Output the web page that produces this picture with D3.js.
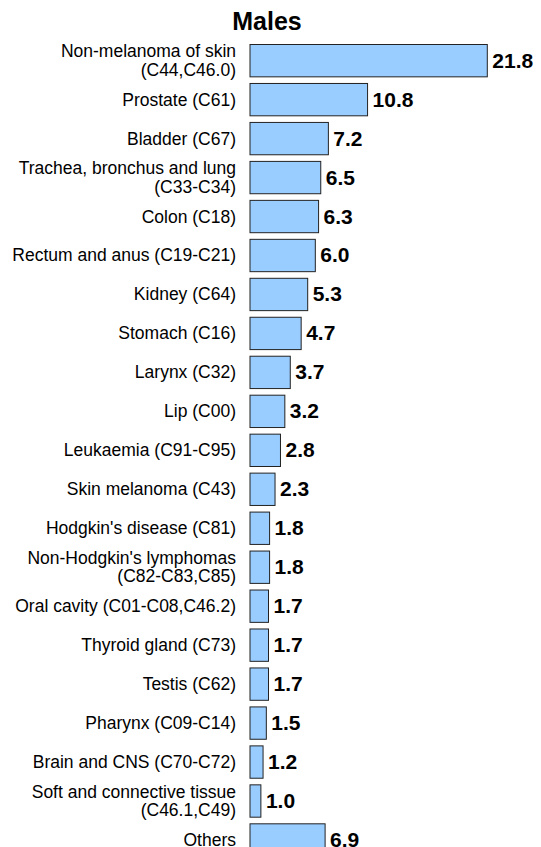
<!DOCTYPE html>
<html>
<head>
<meta charset="utf-8">
<script src="https://cdn.jsdelivr.net/npm/d3@7"></script>
<style>
  body { margin: 0; background: #fff; }
  svg { display: block; font-family: "Liberation Sans", Arial, sans-serif; }
</style>
</head>
<body>
<div id="chart"></div>
<script>
const title = "Males";
const categories = [
  "Non-melanoma of skin\n(C44,C46.0)",
  "Prostate (C61)",
  "Bladder (C67)",
  "Trachea, bronchus and lung\n(C33-C34)",
  "Colon (C18)",
  "Rectum and anus (C19-C21)",
  "Kidney (C64)",
  "Stomach (C16)",
  "Larynx (C32)",
  "Lip (C00)",
  "Leukaemia (C91-C95)",
  "Skin melanoma (C43)",
  "Hodgkin's disease (C81)",
  "Non-Hodgkin's lymphomas\n(C82-C83,C85)",
  "Oral cavity (C01-C08,C46.2)",
  "Thyroid gland (C73)",
  "Testis (C62)",
  "Pharynx (C09-C14)",
  "Brain and CNS (C70-C72)",
  "Soft and connective tissue\n(C46.1,C49)",
  "Others"
];
const values = [21.8, 10.8, 7.2, 6.5, 6.3, 6.0, 5.3, 4.7, 3.7, 3.2, 2.8, 2.3, 1.8, 1.8, 1.7, 1.7, 1.7, 1.5, 1.2, 1.0, 6.9];

const width = 541, height = 847;
const margin = { top: 44, right: 0, bottom: 0, left: 250 };
const barStep = 38.65;

const svg = d3.select("#chart").append("svg")
  .attr("width", width)
  .attr("height", height);

const x = d3.scaleLinear()
  .domain([0, 21.8])
  .range([margin.left, 487.3]);

const y = d3.scaleBand()
  .domain(d3.range(categories.length))
  .range([margin.top, margin.top + barStep * categories.length])
  .paddingInner(0.17)
  .paddingOuter(0);

svg.append("text")
  .attr("x", 267)
  .attr("y", 30)
  .attr("text-anchor", "middle")
  .attr("font-size", 25)
  .attr("font-weight", "bold")
  .text(title);

const rows = svg.append("g")
  .selectAll("g")
  .data(values)
  .join("g");

rows.append("rect")
  .attr("x", x(0))
  .attr("y", (d, i) => y(i) + 0.5)
  .attr("width", (d) => x(d) - x(0))
  .attr("height", y.bandwidth())
  .attr("fill", "#99ccff")
  .attr("stroke", "#222")
  .attr("stroke-width", 1);

rows.append("text")
  .attr("x", (d) => x(d) + 5)
  .attr("y", (d, i) => y(i) + y.bandwidth() / 2 + 7.5)
  .attr("font-size", 21)
  .attr("font-weight", "bold")
  .attr("fill", "#000")
  .text((d) => d.toFixed(1));

// category labels, right aligned, one or two lines
rows.append("text")
  .attr("text-anchor", "end")
  .attr("font-size", 17.5)
  .attr("fill", "#000")
  .each(function (d, i) {
    const lines = categories[i].split("\n");
    const cy = y(i) + y.bandwidth() / 2;
    const lh = 18.5;
    const y0 = cy - (lines.length - 1) * lh / 2 + 6.5;
    d3.select(this).selectAll("tspan")
      .data(lines)
      .join("tspan")
      .attr("x", 236)
      .attr("y", (l, j) => y0 + j * lh)
      .text((l) => l);
  });
</script>
</body>
</html>
